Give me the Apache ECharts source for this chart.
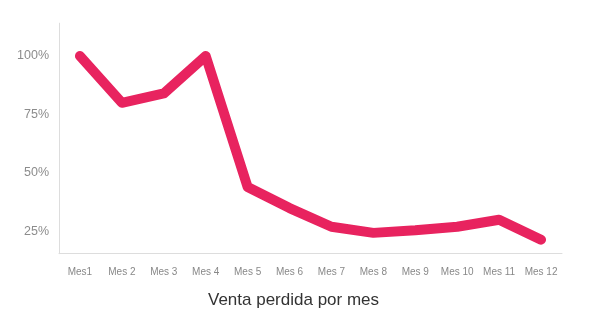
<!DOCTYPE html>
<html><head><meta charset="utf-8">
<script src="https://cdn.jsdelivr.net/npm/echarts@6/dist/echarts.min.js"></script>
<style>html,body{margin:0;padding:0;background:#fff}#c{width:600px;height:323px}</style>
</head><body><div id="c"></div>
<script>
const categories = ['Mes1','Mes 2','Mes 3','Mes 4','Mes 5','Mes 6','Mes 7','Mes 8','Mes 9','Mes 10','Mes 11','Mes 12'];
const values = [100, 80, 84, 100, 44, 35, 27, 24.4, 25.5, 27, 30, 21.5];
const yTickLabels = [25, 50, 75, 100];
const titleText = 'Venta perdida por mes';

const chart = echarts.init(document.getElementById('c'), null, {renderer:'canvas'});
chart.setOption({
  animation:false,
  title:{text:titleText, left:203, top:287, textStyle:{fontFamily:'Liberation Sans, Arial, sans-serif', fontSize:17, fontWeight:'normal', color:'#333'}},
  grid:{left:59, right:38, top:23.2, bottom:69.3, containLabel:false},
  xAxis:{type:'category', data:categories, boundaryGap:true,
    axisLine:{lineStyle:{color:'#dddddd'}}, axisTick:{show:false},
    axisLabel:{color:'#888', fontSize:10, fontFamily:'Liberation Sans, Arial, sans-serif', margin:14, interval:0}},
  yAxis:{type:'value', min:15.5, max:114, interval:0.5,
    axisLine:{show:true, lineStyle:{color:'#dddddd'}}, axisTick:{show:false}, splitLine:{show:false},
    axisLabel:{color:'#8c8c8c', fontSize:12.5, fontFamily:'Liberation Sans, Arial, sans-serif', margin:10,
      formatter:function(v){return yTickLabels.indexOf(v)>=0 ? v+'%' : '';}}},
  series:[{type:'line', data:values, symbol:'none', smooth:false,
    lineStyle:{color:'#e8235f', width:10, cap:'round', join:'round'}}]
});
</script></body></html>
